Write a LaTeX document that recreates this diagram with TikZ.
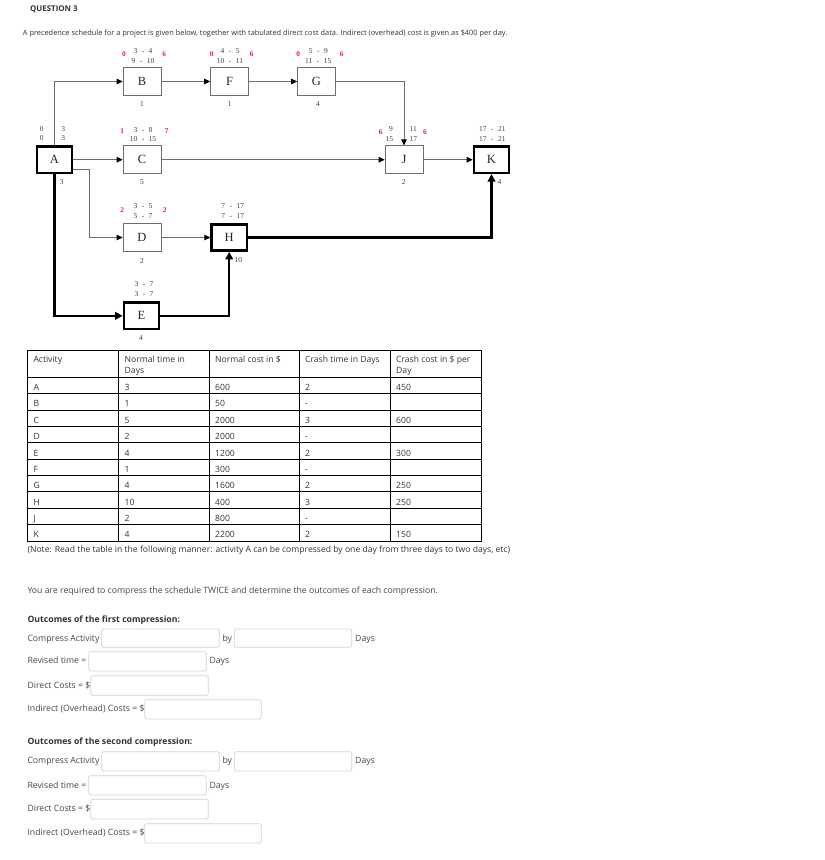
\documentclass[tikz,border=0pt]{standalone}
\usepackage{fontspec}
\setmainfont{Open Sans}
\newfontfamily\serfont{Liberation Serif}
\usetikzlibrary{arrows.meta,calc}
\definecolor{txt}{HTML}{333333}
\definecolor{redn}{HTML}{E8222E}
\definecolor{lin}{HTML}{6E6E6E}
\definecolor{fld}{HTML}{D2D2D2}
\newcommand{\prange}[2]{#1\hspace{4.5pt}-\hspace{4.5pt}#2}
\begin{document}
\begin{tikzpicture}[x=1pt,y=-1pt,
  box/.style={draw=lin, line width=0.8pt, minimum width=37.8pt, minimum height=27.9pt, inner sep=0pt, font=\serfont\fontsize{12.5}{14}\selectfont, text=black!85},
  cbox/.style={draw=black, line width=2.4pt, minimum width=35.2pt, minimum height=26.3pt, inner sep=0pt, font=\serfont\fontsize{12.5}{14}\selectfont, text=black!85},
  lab/.style={font=\serfont\fontsize{7.5}{8}\selectfont, text=black!75, inner sep=0pt},
  rlab/.style={font=\serfont\bfseries\fontsize{7.3}{8}\selectfont, text=redn, inner sep=0pt},
  con/.style={draw=lin, line width=0.8pt, -{Triangle[length=6pt,width=5.5pt,color=black]}},
  crit/.style={draw=black, line width=2.4pt, -{Triangle[length=7.5pt,width=7.5pt]}},
  para/.style={anchor=base west, inner sep=0pt, text=txt, font=\fontsize{7.4}{9}\selectfont},
  tcell/.style={anchor=base west, inner sep=0pt, text=txt, font=\fontsize{8.6}{11}\selectfont},
  form/.style={anchor=base west, inner sep=0pt, text=txt!90, font=\fontsize{8.7}{10}\selectfont},
  formb/.style={anchor=base west, inner sep=0pt, text=txt, font=\bfseries\fontsize{8.7}{10}\selectfont},
  field/.style={draw=fld, line width=0.7pt, rounded corners=2pt}
]
\useasboundingbox[fill=white] (0,0) rectangle (825,860);

% ---------- heading ----------
\node[para, font=\bfseries\fontsize{7.9}{9}\selectfont] (q3) at (30,11) {QUESTION 3};
\node[para] (intro) at (22.7,35.3) {A precedence schedule for a project is given below, together with tabulated direct cost data. Indirect (overhead) cost is given as \$400 per day.};

% ---------- network ----------
\node[box]  (B) at (142,81.5) {B};
\node[box]  (F) at (229.5,81.5) {F};
\node[box]  (G) at (316.5,81.5) {G};
\node[cbox] (A) at (54.5,159.7) {A};
\node[box]  (C) at (142,159.7) {C};
\node[box]  (J) at (404,159.7) {J};
\node[cbox] (K) at (491.5,159.7) {K};
\node[box]  (D) at (142,237.5) {D};
\node[cbox] (H) at (229.2,237.5) {H};
\node[cbox] (E) at (141.5,315.8) {E};

% connectors
\draw[con] (A.north) |- (B.west);
\draw[con] (A.east) -- (C.west);
\draw[con] ([yshift=-9.6pt]A.east) -| ++(16,20) |- (D.west);
\draw[crit] (A.south) |- (E.west);
\draw[con] (B.east) -- (F.west);
\draw[con] (F.east) -- (G.west);
\draw[con] (G.east) -| (J.north);
\draw[con] (C.east) -- (J.west);
\draw[con] (J.east) -- (K.west);
\draw[con] (D.east) -- (H.west);
\draw[crit] (E.east) -| (H.south);
\draw[crit] (H.east) -| (K.south);

% labels B
\node[lab] (Bt1) at (143,51) {\prange{3}{4}};
\node[lab] (Bt2) at (143,60.7) {\prange{9}{10}};
\node[rlab] (Br1) at (124,54) {0};
\node[rlab] (Br2) at (164.3,54) {6};
\node[lab] (Bd) at (142,104) {1};
% labels F
\node[lab] (Ft1) at (230,51) {\prange{4}{5}};
\node[lab] (Ft2) at (230,60.7) {\prange{10}{11}};
\node[rlab] (Fr1) at (211.7,54) {0};
\node[rlab] (Fr2) at (251.7,54) {6};
\node[lab] (Fd) at (229.5,104) {1};
% labels G
\node[lab] (Gt1) at (318.3,51) {\prange{5}{9}};
\node[lab] (Gt2) at (318.3,60.7) {\prange{11}{15}};
\node[rlab] (Gr1) at (298.3,54) {0};
\node[rlab] (Gr2) at (341.7,54) {6};
\node[lab] (Gd) at (318,104) {4};
% labels A
\node[lab] (Aa) at (41.7,129) {0};
\node[lab] (Ab) at (41.7,138.3) {0};
\node[lab] (Ac) at (63.3,129) {3};
\node[lab] (Ad) at (63.3,138.3) {3};
\node[lab] (Ae) at (61.7,181.7) {3};
% labels C
\node[lab] (Ct1) at (143,129.7) {\prange{3}{8}};
\node[lab] (Ct2) at (143,138.7) {\prange{10}{15}};
\node[rlab] (Cr1) at (122.3,130.7) {1};
\node[rlab] (Cr2) at (166.7,130.7) {7};
\node[lab] (Cd) at (142,181.7) {5};
% labels J
\node[rlab] (Jr1) at (380.7,131.7) {6};
\node[lab] (Ja) at (391,129) {9};
\node[lab] (Jb) at (389.3,138.7) {15};
\node[lab] (Jc) at (413.3,129) {11};
\node[lab] (Jd) at (413.3,138.7) {17};
\node[rlab] (Jr2) at (425,131.7) {6};
\node[lab] (Je) at (403.7,181.7) {2};
% labels K
\node[lab] (Kt1) at (492.3,129) {\prange{17}{21}};
\node[lab] (Kt2) at (492.3,138.7) {\prange{17}{21}};
\node[lab] (Kd) at (499.5,181.7) {4};
% labels D
\node[lab] (Dt1) at (143,206) {\prange{3}{5}};
\node[lab] (Dt2) at (143,215.7) {\prange{5}{7}};
\node[rlab] (Dr1) at (122.3,210) {2};
\node[rlab] (Dr2) at (164.7,210) {2};
\node[lab] (Dd) at (142,260.7) {2};
% labels H
\node[lab] (Ht1) at (232.7,206) {\prange{7}{17}};
\node[lab] (Ht2) at (232.7,215.7) {\prange{7}{17}};
\node[lab] (Hd) at (238.3,260.3) {10};
% labels E
\node[lab] (Et1) at (144,284.3) {\prange{3}{7}};
\node[lab] (Et2) at (144,294) {\prange{3}{7}};
\node[lab] (Ed) at (141,337.7) {4};

% ---------- table ----------
\draw[line width=0.9pt] (27.3,350) rectangle (481.7,541);
\foreach \x in {118.7,209.3,299.3,390.3} \draw[line width=0.9pt] (\x,350) -- (\x,541);
\draw[line width=0.9pt] (27.3,377.3) -- (481.7,377.3);
\foreach \i in {1,...,9} \draw[line width=0.9pt] (27.3,377.3+\i*16.37) -- (481.7,377.3+\i*16.37);

\node[tcell] (h1) at (33.3,362.3) {Activity};
\node[tcell] (h2) at (124.5,362.3) {Normal time in};
\node[tcell] (h2b) at (124.5,373.8) {Days};
\node[tcell] (h3) at (215,362.3) {Normal cost in \$};
\node[tcell] (h4) at (305,362.3) {Crash time in Days};
\node[tcell] (h5) at (396,362.3) {Crash cost in \$ per};
\node[tcell] (h5b) at (396,373.8) {Day};

\foreach \a/\b/\c/\d/\e [count=\i] in {A/3/600/2/450, B/1/50/-/, C/5/2000/3/600, D/2/2000/-/, E/4/1200/2/300, F/1/300/-/, G/4/1600/2/250, H/10/400/3/250, J/2/800/-/, K/4/2200/2/150}{
  \node[tcell] (r\i a) at (33.3,377.3+\i*16.37-3.1) {\a};
  \node[tcell] (r\i b) at (124.5,377.3+\i*16.37-3.1) {\b};
  \node[tcell] (r\i c) at (215,377.3+\i*16.37-3.1) {\c};
  \node[tcell] (r\i d) at (305,377.3+\i*16.37-3.1) {\d};
  \node[tcell] (r\i e) at (396,377.3+\i*16.37-3.1) {\e};
}
\node[tcell] (note) at (27.3,552) {(Note: Read the table in the following manner: activity A can be compressed by one day from three days to two days, etc)};

% ---------- form ----------
\node[form] (req) at (27.3,593.7) {You are required to compress the schedule TWICE and determine the outcomes of each compression.};

\node[formb] (o1) at (27.3,622) {Outcomes of the first compression:};
\node[form] (ca1) at (27.3,641) {Compress Activity};
\draw[field] (101.7,629) rectangle (219.3,647.3);
\node[form] (by1) at (222.3,641) {by};
\draw[field] (234.3,629) rectangle (351.7,647.3);
\node[form] (dy1) at (355,641) {Days};
\node[form] (rt1) at (27.3,663.7) {Revised time =};
\draw[field] (88.7,651.7) rectangle (206.3,671);
\node[form] (dy1b) at (209.3,663.7) {Days};
\node[form] (dc1) at (27.3,688) {Direct Costs = \$};
\draw[field] (90.7,675.7) rectangle (208.3,695.3);
\node[form] (ic1) at (27.3,711.3) {Indirect (Overhead) Costs = \$};
\draw[field] (144.7,699.7) rectangle (261.3,719);

\node[formb] (o2) at (27.3,744.7) {Outcomes of the second compression:};
\node[form] (ca2) at (27.3,763.7) {Compress Activity};
\draw[field] (101.7,751.7) rectangle (219.3,771);
\node[form] (by2) at (222.3,763.7) {by};
\draw[field] (234.3,751.7) rectangle (351.7,771);
\node[form] (dy2) at (355,763.7) {Days};
\node[form] (rt2) at (27.3,788) {Revised time =};
\draw[field] (88.7,775.7) rectangle (206.3,795);
\node[form] (dy2b) at (209.3,788) {Days};
\node[form] (dc2) at (27.3,811.3) {Direct Costs = \$};
\draw[field] (90.7,799.3) rectangle (208.3,819);
\node[form] (ic2) at (27.3,835.7) {Indirect (Overhead) Costs = \$};
\draw[field] (144.7,823.7) rectangle (261.3,843);
\end{tikzpicture}
\end{document}
